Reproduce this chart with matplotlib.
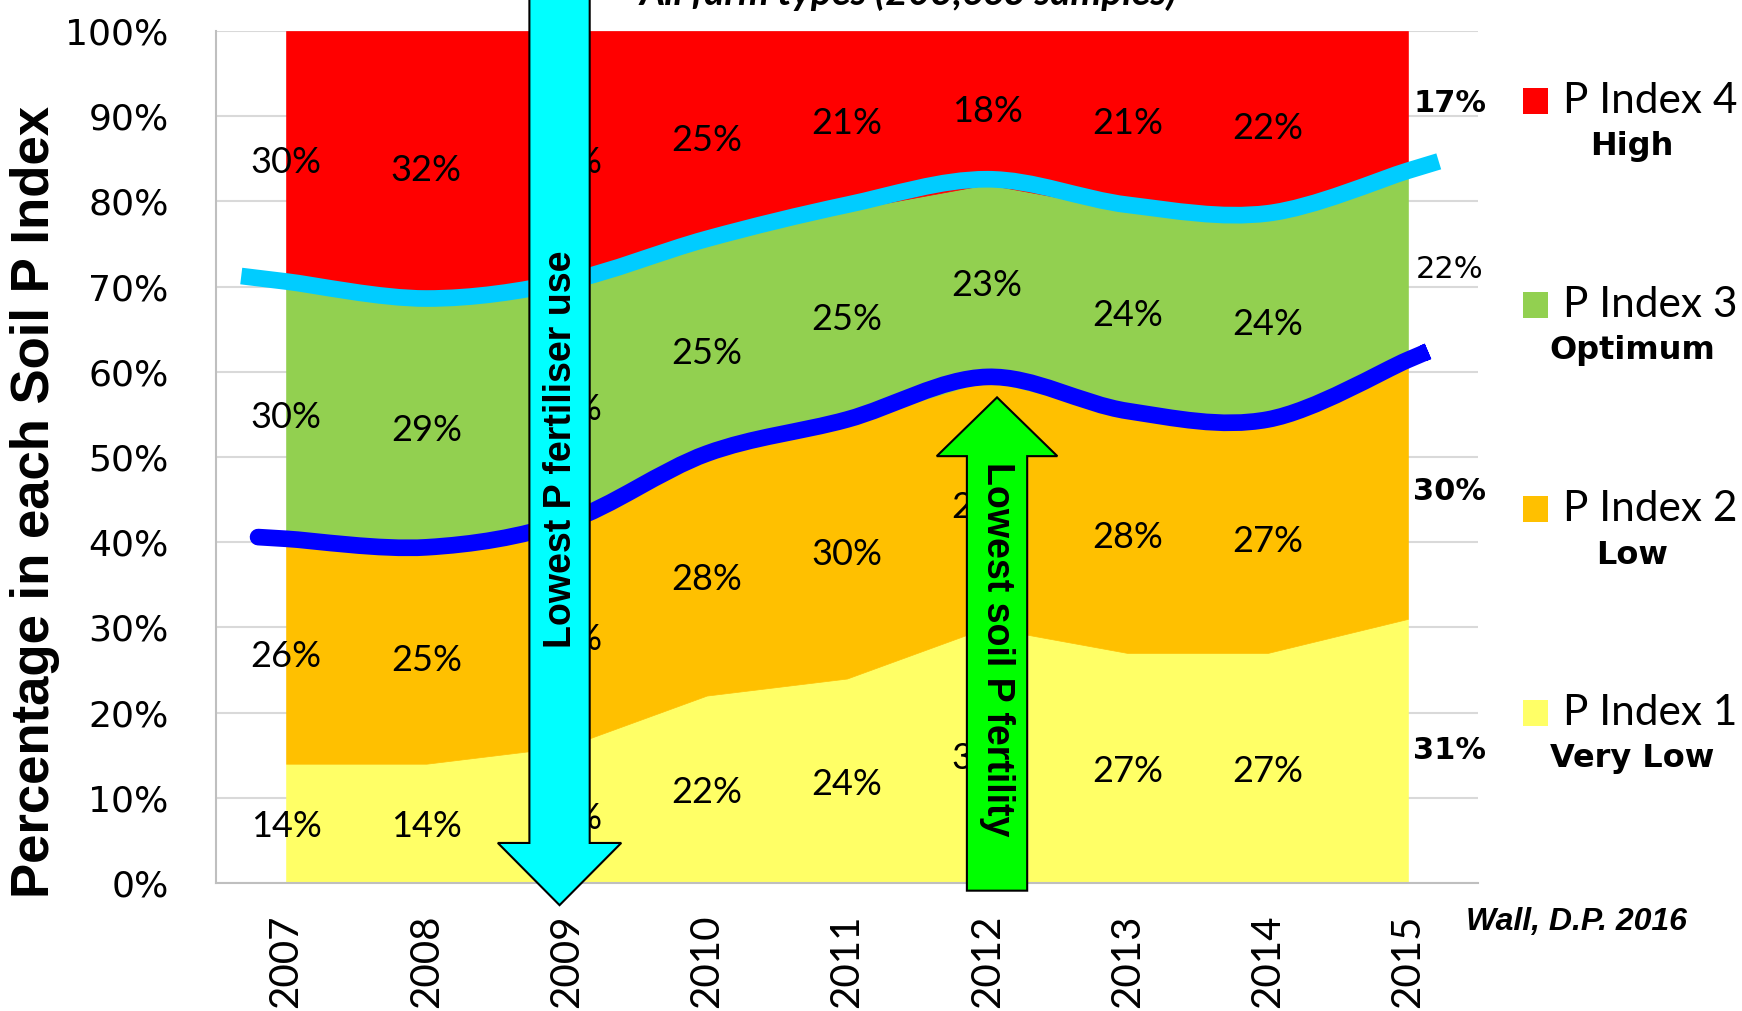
import matplotlib
matplotlib.use("Agg")
import matplotlib.pyplot as plt
from matplotlib.path import Path
from matplotlib.patches import PathPatch, FancyArrow, Rectangle
import numpy as np

# data
years = [2007, 2008, 2009, 2010, 2011, 2012, 2013, 2014, 2015]
p1_very_low = [14, 14, 16, 22, 24, 30, 27, 27, 31]
p2_low = [26, 25, 26, 28, 30, 29, 28, 27, 30]
p3_optimum = [30, 29, 28, 25, 25, 23, 24, 24, 22]
p4_high = [30, 32, 30, 25, 21, 18, 21, 22, 17]
series_names = ["P Index 1", "P Index 2", "P Index 3", "P Index 4"]
series_subs = ["Very Low", "Low", "Optimum", "High"]
last_bold = [True, True, False, True]  # 2015 labels

colors = ["#FFFF66", "#FFC000", "#92D050", "#FF0000"]
W, H = 1742, 1011
NARROW = ["Liberation Sans Narrow", "Liberation Sans"]


def px(x, y):
    return x / W, 1 - y / H


def smooth_path(xs, ys):
    # catmull-rom through the points, as cubic beziers
    n = len(xs)
    verts = [(xs[0], ys[0])]
    codes = [Path.MOVETO]
    for i in range(n - 1):
        a, b = max(i - 1, 0), min(i + 2, n - 1)
        c1 = (xs[i] + (xs[i + 1] - xs[a]) / 6, ys[i] + (ys[i + 1] - ys[a]) / 6)
        c2 = (xs[i + 1] - (xs[b] - xs[i]) / 6, ys[i + 1] - (ys[b] - ys[i]) / 6)
        verts += [c1, c2, (xs[i + 1], ys[i + 1])]
        codes += [Path.CURVE4] * 3
    return Path(verts, codes)


def extended(xs, ys, e0, e1):
    xs = list(xs); ys = list(ys)
    x0 = xs[0] - e0; y0 = ys[0] + (ys[0] - ys[1]) * e0
    x1 = xs[-1] + e1; y1 = ys[-1] + (ys[-1] - ys[-2]) * e1
    return [x0] + xs + [x1], [y0] + ys + [y1]


fig = plt.figure(figsize=(W / 100, H / 100), dpi=100)
l, b = px(216, 883)
r, t = px(1478, 31)
ax = fig.add_axes([l, b, r - l, t - b])

stack = [p1_very_low, p2_low, p3_optimum, p4_high]
bottom = np.zeros(len(years))
for vals, c in zip(stack, colors):
    top = bottom + np.array(vals)
    ax.fill_between(years, bottom, top, facecolor=c, edgecolor=c, lw=0.5, zorder=2)
    for i, (x, v) in enumerate(zip(years, vals)):
        yc = bottom[i] + v / 2
        if i < len(years) - 1:
            ax.text(x, yc - 0.4, f"{v}%", ha="center", va="center", fontsize=26,
                    family="Lato", zorder=4)
    bottom = top

# 2015 labels to the right of the area
bottom = np.zeros(len(years))
for vals, bold in zip(stack, last_bold):
    yc = bottom[-1] + vals[-1] / 2
    ax.text(years[-1] + 0.3, yc, f"{vals[-1]}%", ha="center", va="center",
            fontsize=22, family="DejaVu Sans", weight="bold" if bold else "normal",
            clip_on=False)
    bottom = bottom + np.array(vals)

# smoothed boundary lines
low_top = np.array(p1_very_low) + np.array(p2_low)
opt_top = low_top + np.array(p3_optimum)
xs, ys = extended(years, opt_top + 0.6, 0.32, 0.22)
ax.add_patch(PathPatch(smooth_path(xs, ys), fill=False, edgecolor="#00CCFF", lw=12,
                       capstyle="butt", zorder=3))
xs, ys = extended(years, low_top + 0.4, 0.2, 0.12)
ax.add_patch(PathPatch(smooth_path(xs, ys), fill=False, edgecolor="#0000FF", lw=12,
                       capstyle="round", zorder=3))

# arrows
ax.add_patch(FancyArrow(2008.95, 112, 0, -114.6, width=0.43, head_width=0.88,
                        head_length=7.3, length_includes_head=True, fc="#00FFFF",
                        ec="black", lw=1.5, clip_on=False, zorder=5))
ax.text(2008.96, 50.9, "Lowest P fertiliser use", rotation=90, ha="center", va="center",
        fontsize=27, family=NARROW, weight="bold", zorder=6)
ax.add_patch(FancyArrow(2012.07, -0.9, 0, 57.9, width=0.43, head_width=0.86,
                        head_length=6.9, length_includes_head=True, fc="#00FF00",
                        ec="black", lw=1.5, clip_on=False, zorder=5))
ax.text(2012.07, 27.4, "Lowest soil P fertility", rotation=270, ha="center", va="center",
        fontsize=27, family=NARROW, weight="bold", zorder=6)

ax.set_xlim(2006.5, 2015.5)
ax.set_ylim(0, 100)
ax.set_yticks(range(0, 101, 10))
ax.set_yticklabels([f"{v}%" for v in range(0, 101, 10)], family="DejaVu Sans", fontsize=26)
ax.set_xticks(years)
ax.set_xticklabels([str(y) for y in years], family="Lato", fontsize=29, rotation=90)
ax.tick_params(axis="y", length=0, pad=34)
ax.tick_params(axis="x", length=0, pad=23)
ax.yaxis.grid(True, color="#D9D9D9", lw=1.5)
ax.set_axisbelow(True)
for s in ["top", "right"]:
    ax.spines[s].set_visible(False)
for s in ["left", "bottom"]:
    ax.spines[s].set_color("#BFBFBF")
    ax.spines[s].set_linewidth(1.5)

fig.text(*px(35, 502), "Percentage in each Soil P Index", rotation=90, ha="center",
         va="center", fontsize=38, family=NARROW, weight="bold")
fig.text(*px(908, 5), "All farm types (203,663 samples)", ha="center", va="baseline",
         fontsize=28, family="Lato", style="italic", weight="bold")
fig.text(*px(1466, 922), "Wall, D.P. 2016", ha="left", va="center", fontsize=23,
         family="Liberation Sans", style="italic", weight="bold")

# legend, top entry is P Index 4
for i, k in enumerate(range(3, -1, -1)):
    yc = 101 + i * 204
    x0, y0 = px(1523, yc + 13)
    fig.add_artist(Rectangle((x0, y0), 25 / W, 26 / H, transform=fig.transFigure,
                             facecolor=colors[k], edgecolor="none"))
    fig.text(*px(1563, yc), series_names[k], ha="left", va="center", fontsize=30.5,
             family="Lato")
    fig.text(*px(1632, yc + 46), series_subs[k], ha="center", va="center", fontsize=23,
             family="DejaVu Sans", weight="bold")

fig.savefig("out.png", dpi=100)
